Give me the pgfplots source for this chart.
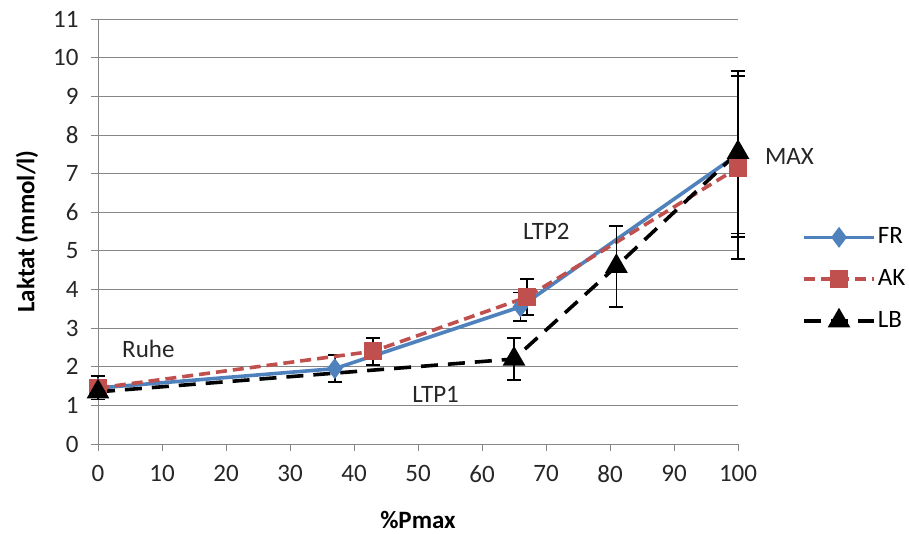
\documentclass[border=0pt]{standalone}
\usepackage{pgfplots}
\pgfplotsset{compat=1.18}
\usepackage{fontspec}
\setmainfont{Carlito}
\definecolor{frblue}{RGB}{79,129,189}
\definecolor{akred}{RGB}{192,80,77}
\definecolor{gridgray}{RGB}{134,134,134}
\begin{document}
\fontsize{25bp}{30bp}\selectfont
\begin{tikzpicture}
\useasboundingbox (-98bp,-90bp) rectangle (811bp,444bp);
\begin{axis}[
  at={(0,0)}, anchor=south west,
  scale only axis, width=640bp, height=425bp,
  xmin=0, xmax=100, ymin=0, ymax=11,
  xtick={0,10,...,100}, ytick={0,1,...,11},
  axis lines=left,
  axis line style={gridgray, line width=0.8bp, -},
  tick style={gridgray, line width=0.8bp},
  tick align=outside, major tick length=7bp,
  ymajorgrids, grid style={gridgray, line width=0.8bp},
  every tick label/.append style={font=\fontsize{25bp}{30bp}\selectfont, text=black!85},
  /pgf/number format/assume math mode=true,
  xticklabel style={yshift=-6bp},
  yticklabel style={xshift=-4bp},
  xlabel={\textbf{\%Pmax}}, ylabel={\textbf{Laktat (mmol/l)}},
  label style={font=\fontsize{25bp}{30bp}\selectfont},
  xlabel style={yshift=-12bp},
  ylabel style={yshift=-2bp},
  clip=false,
  legend style={draw=none, fill=none, at={(1.1,0.388)}, anchor=west, inner sep=0pt,
    font=\fontsize{25bp}{30bp}\selectfont, row sep=18bp,
    /tikz/every even column/.append style={column sep=6bp}},
  legend cell align=left,
  legend image code/.code={\draw[mark repeat=2,mark phase=2,#1] plot coordinates {(0bp,0bp) (35bp,0bp) (70bp,0bp)};},
  error bars/error bar style={black, line width=1.8bp, solid},
  error bars/error mark options={black, rotate=90, mark size=7bp, line width=1.8bp, solid},
]
\addplot[frblue, line width=3.6bp, mark=diamond*, mark size=7.5bp, mark options={solid, fill=frblue},
  error bars/.cd, y dir=both, y explicit]
  coordinates {(0,1.45) +- (0,0.3) (37,1.95) +- (0,0.35) (66,3.55) +- (0,0.37) (100,7.5) +- (0,2.15)};
\addlegendentry{FR}
\addplot[akred, line width=3.6bp, dash pattern=on 11bp off 6bp, mark=square*, mark size=7bp, mark options={solid, fill=akred},
  error bars/.cd, y dir=both, y explicit]
  coordinates {(0,1.45) +- (0,0.3) (43,2.4) +- (0,0.35) (67,3.8) +- (0,0.47) (100,7.15) +- (0,2.37)};
\addlegendentry{AK}
\addplot[black, line width=3.6bp, dash pattern=on 17bp off 10bp, mark=triangle*, mark size=9.5bp, mark options={solid, fill=black},
  error bars/.cd, y dir=both, y explicit]
  coordinates {(0,1.35) +- (0,0.2) (65,2.2) +- (0,0.55) (81,4.6) +- (0,1.05) (100,7.55) +- (0,2.1)};
\addlegendentry{LB}
\node[anchor=west, inner sep=0pt, text=black!85] at (axis cs:3.75,2.46) {Ruhe};
\node[anchor=west, inner sep=0pt, text=black!85] at (axis cs:49.1,1.29) {LTP1};
\node[anchor=west, inner sep=0pt, text=black!85] at (axis cs:66.4,5.51) {LTP2};
\node[anchor=west, inner sep=0pt, text=black!85] at (axis cs:104.2,7.43) {MAX};
\end{axis}
\end{tikzpicture}
\end{document}
